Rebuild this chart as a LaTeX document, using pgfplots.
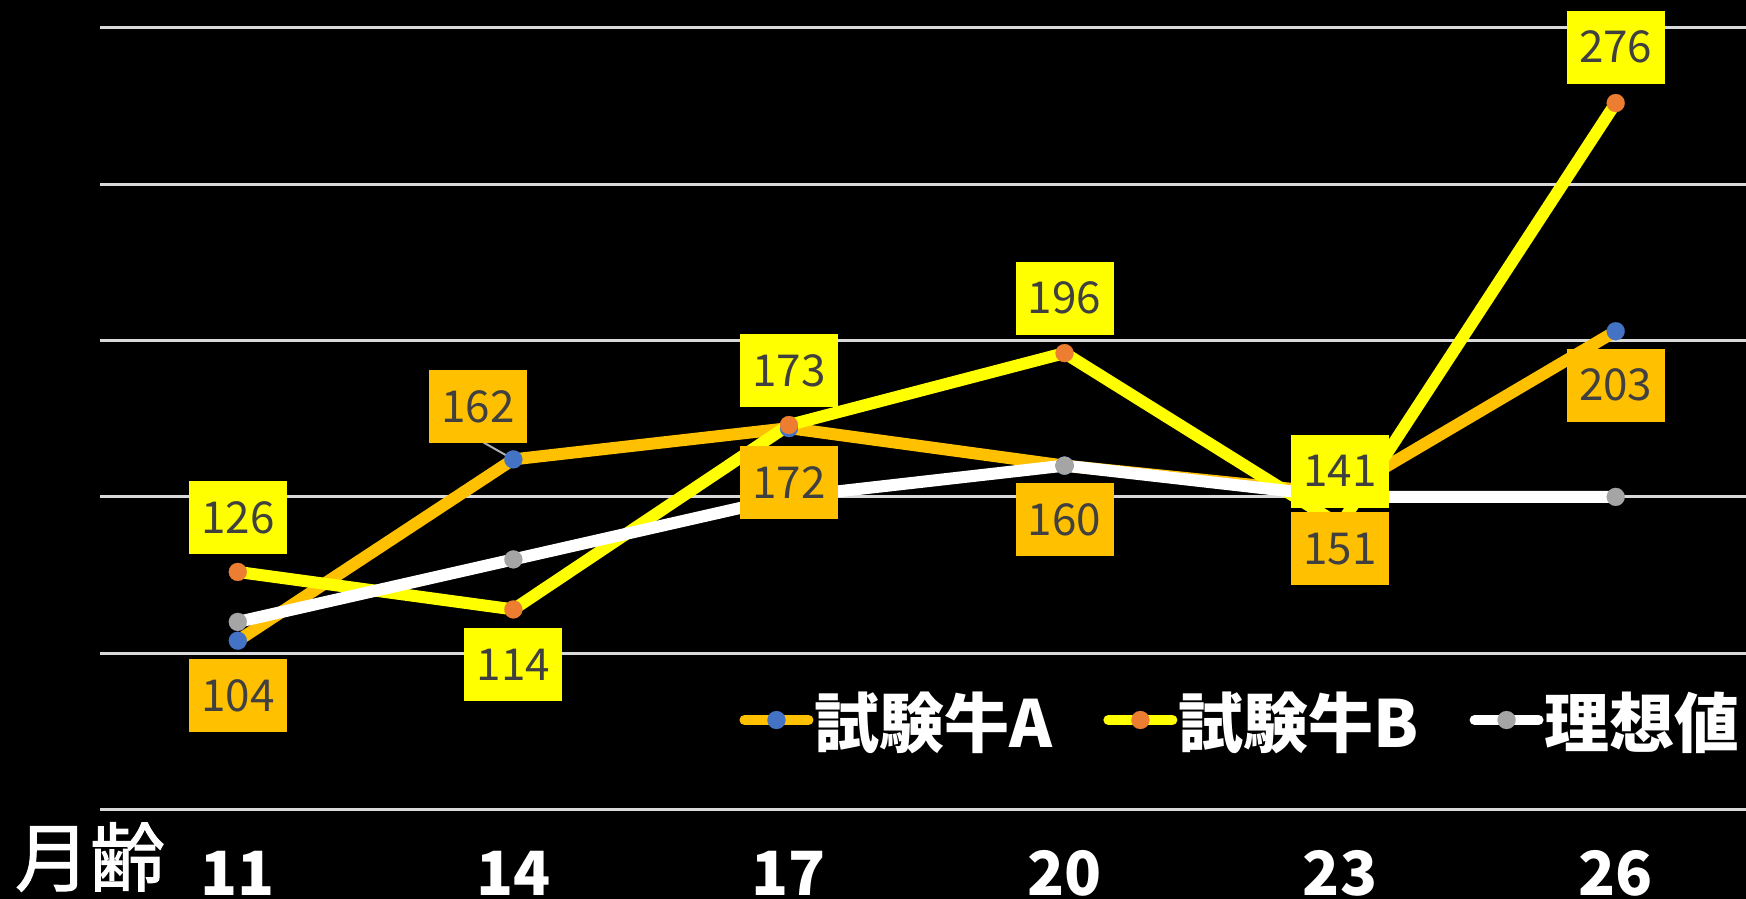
\documentclass[border=0pt]{standalone}
\usepackage{fontspec}
\setmainfont{Noto Sans CJK JP}
\newfontfamily\jpmed[FakeBold=1.5]{Noto Sans CJK JP}
\usepackage{pgfplots}
\usepackage{pgfplotstable}
\pgfplotsset{compat=1.18}
\definecolor{cA}{HTML}{FFC000}
\definecolor{cB}{HTML}{FFFF00}
\definecolor{mA}{HTML}{4472C4}
\definecolor{mB}{HTML}{ED7D31}
\definecolor{mI}{HTML}{A5A5A5}
\definecolor{gridc}{HTML}{D9D9D9}
\definecolor{txt}{HTML}{404040}

\pgfplotstableread{
x y label dx dy
0 104 104 0 -55
1 162 162 -35.5 52.5
2 172 172 0 -54
3 160 160 0 -54
4 151 151 0 -55
5 203 203 0 -54
}\dataA
\pgfplotstableread{
x y label dx dy
0 126 126 0 54
1 114 114 0 -55
2 173 173 0 54
3 196 196 0 55
4 141 141 0 54
5 276 276 0 56
}\dataB
\pgfplotstableread{
x y
0 110
1 130
2 150
3 160
4 150
5 150
}\dataI

\begin{document}
\begin{tikzpicture}
\fill[black] (0,0) rectangle (1746bp,899bp);
\begin{axis}[
  at={(100bp,89.5bp)}, anchor=south west,
  scale only axis, width=1646bp, height=781.5bp,
  xmin=-0.5, xmax=5.473, ymin=50, ymax=300,
  clip=false,
  axis line style={draw=none}, tick style={draw=none},
  major tick length=0pt,
  xtick={0,...,5}, xticklabels={11,14,17,20,23,26},
  xticklabel style={text=white, font=\fontsize{61bp}{61bp}\selectfont\bfseries, anchor=base, yshift=-85.5bp},
  ytick={50,100,...,300}, yticklabels={},
  ymajorgrids, grid style={color=gridc, line width=3bp},
  legend columns=3,
  legend style={at={(0.3885,0.1145)}, anchor=west, draw=none, fill=none,
    inner sep=0pt, outer sep=0pt, text=white,
    font=\fontsize{65bp}{72bp}\selectfont\bfseries,
    /tikz/every even column/.append style={column sep=50bp},
    nodes={inner sep=1bp}},
  legend image code/.code={\draw[mark repeat=2, mark phase=2, #1, line width=10bp] plot coordinates {(5bp,0bp) (37bp,0bp) (69bp,0bp)};},
  every node near coord/.append style={anchor=center, text=txt,
    font=\fontsize{44bp}{50bp}\selectfont, minimum width=98bp, minimum height=73bp,
    inner sep=0pt, xshift=\dx bp, yshift=\dy bp},
]
\addplot[cA, line width=12bp, line cap=round, line join=round, mark=*, mark size=9bp, mark options={fill=mA, draw=mA, line width=0.2bp}] table[x=x, y=y] {\dataA};
\addlegendentry{試験牛A}
\addplot[cB, line width=12bp, line cap=round, line join=round, mark=*, mark size=9bp, mark options={fill=mB, draw=mB, line width=0.2bp}] table[x=x, y=y] {\dataB};
\addlegendentry{試験牛B}
\addplot[white, line width=12bp, line cap=round, line join=round, mark=*, mark size=9bp, mark options={fill=mI, draw=mI, line width=0.2bp}] table[x=x, y=y] {\dataI};
\addlegendentry{理想値}
\draw[mI!90!white, line width=2bp] (axis cs:1,162) -- ++(-30bp,17bp);
\addplot[draw=none, forget plot, point meta=explicit symbolic,
  visualization depends on={\thisrow{dx}\as\dx},
  visualization depends on={\thisrow{dy}\as\dy},
  nodes near coords={\pgfplotspointmeta},
  every node near coord/.append style={fill=cA}] table[x=x, y=y, meta=label] {\dataA};
\addplot[draw=none, forget plot, point meta=explicit symbolic,
  visualization depends on={\thisrow{dx}\as\dx},
  visualization depends on={\thisrow{dy}\as\dy},
  nodes near coords={\pgfplotspointmeta},
  every node near coord/.append style={fill=cB}] table[x=x, y=y, meta=label] {\dataB};
\end{axis}
\node[text=white, font=\fontsize{75bp}{80bp}\selectfont\jpmed, inner sep=0pt] at (90bp,42bp) {月齢};
\pgfresetboundingbox
\path[use as bounding box] (0,0) rectangle (1746bp,899bp);
\end{tikzpicture}
\end{document}
